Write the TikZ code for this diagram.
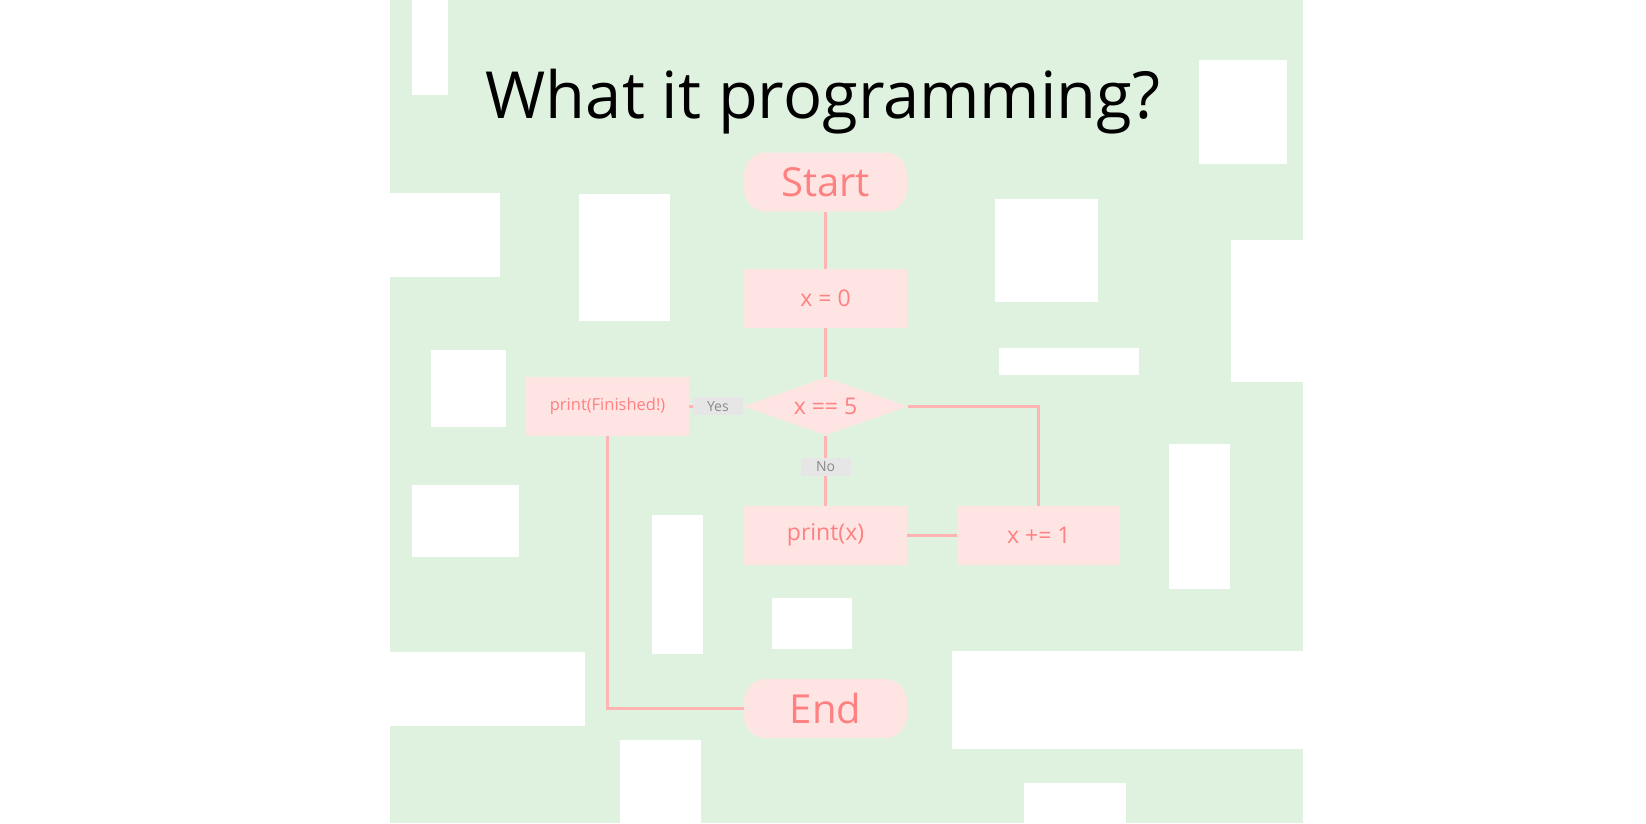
\documentclass[tikz,border=0pt]{standalone}
\usepackage{fontspec}
\setmainfont{Open Sans}
\usepackage{xcolor}
\usetikzlibrary{positioning, shapes.geometric}

\definecolor{bggreen}{HTML}{DFF2E0}
\definecolor{nodefill}{HTML}{FFE4E4}
\definecolor{nodetext}{HTML}{FF8080}
\definecolor{linkpink}{HTML}{FFB3B3}
\definecolor{tagfill}{HTML}{E6E6E6}
\definecolor{tagtext}{HTML}{8A8A8A}

\begin{document}
\begin{tikzpicture}[
    x=1pt, y=-1pt,
    every node/.style={text=nodetext},
    base/.style={fill=nodefill, minimum width=163pt, minimum height=59pt, inner sep=0pt},
    terminal/.style={base, rounded corners=22pt, font=\fontsize{40}{40}\selectfont},
    process/.style={base, font=\fontsize{23}{23}\selectfont},
    decision/.style={diamond, aspect=2.8, fill=nodefill, minimum width=164pt, minimum height=58pt, inner sep=0pt, font=\fontsize{23}{23}\selectfont},
    tag/.style={fill=tagfill, text=tagtext, minimum width=50pt, minimum height=18pt, inner sep=0pt, font=\fontsize{14}{14}\selectfont},
    link/.style={draw=linkpink, line width=3pt}
]
\useasboundingbox (0,0) rectangle (1646,823);

% background with white blocks
\fill[bggreen] (390,0) rectangle (1303,823);
\foreach \xa/\ya/\xb/\yb in {412/0/448/95, 390/193/500/277, 579/194/670/321,
    431/350/506/427, 412/485/519/557, 390/652/585/726, 620/740/701/823,
    652/515/703/654, 772/598/852/649, 952/651/1303/749, 1024/783/1126/823,
    1169/444/1230/589, 1231/240/1303/382, 1199/60/1287/164, 995/199/1098/302,
    999/348/1139/375}
    \fill[white] (\xa,\ya) rectangle (\xb,\yb);

\node[anchor=base, text=black, font=\fontsize{65}{65}\selectfont] (title) at (823,118) {What it programming?};

% flowchart
\node[terminal] (start) at (825.5,182) {Start};
\node[process, below=57pt of start] (init) {x = 0};
\node[decision, below=49pt of init] (check) {x == 5};
\node[process, below=70pt of check] (show) {print(x)};
\node[process, right=50pt of show] (incr) {x += 1};
\node[process, left=54pt of check, font=\fontsize{16.5}{16.5}\selectfont] (done) {print(Finished!)};
\node[terminal, below=114pt of show] (end) {End};

\draw[link] (start) -- (init);
\draw[link] (init) -- (check);
\draw[link] (check) -- node[tag, pos=0.45] {No} (show);
\draw[link] (check.west) -- node[tag, pos=0.47] {Yes} (done);
\draw[link] (show) -- (incr);
\draw[link] (incr) |- (check.east);
\draw[link] (done) |- (end);

\end{tikzpicture}
\end{document}
